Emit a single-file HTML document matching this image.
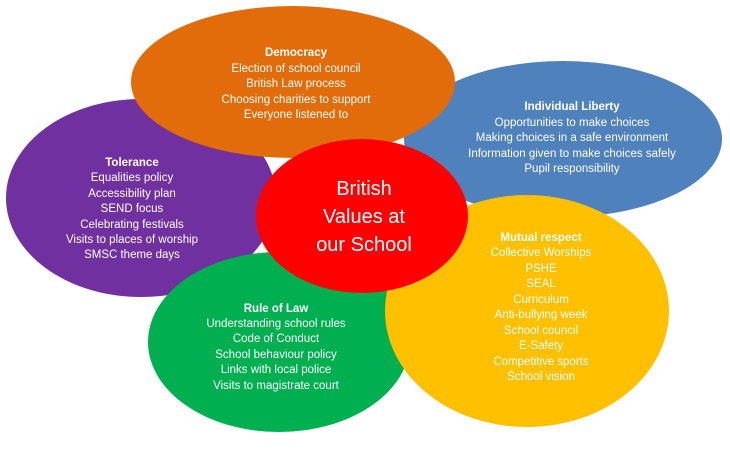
<!DOCTYPE html>
<html><head><meta charset="utf-8"><style>
html,body{margin:0;padding:0;background:#fff;width:730px;height:449px;overflow:hidden}
svg{display:block}
text{font-family:"Liberation Sans",sans-serif;fill:#fff;text-anchor:middle}
.t{font-size:11.5px;font-weight:bold}
.b{font-size:11.5px}
</style></head><body>
<svg width="730" height="449" viewBox="0 0 730 449">
<ellipse cx="141" cy="198" rx="135" ry="99" fill="#7030a0"/>
<ellipse cx="563" cy="139" rx="159" ry="78" fill="#4f81bd"/>
<ellipse cx="293" cy="82" rx="162" ry="76" fill="#e36c0a"/>
<ellipse cx="279" cy="342" rx="131" ry="90" fill="#00b050"/>
<ellipse cx="527" cy="311" rx="142" ry="116" fill="#ffc000"/>
<ellipse cx="362" cy="216" rx="106" ry="77" fill="#ff0000"/>

<text class="t" x="296" y="56">Democracy</text>
<text class="b" x="296" y="72">Election of school council</text>
<text class="b" x="296" y="87">British Law process</text>
<text class="b" x="296" y="103">Choosing charities to support</text>
<text class="b" x="296" y="118">Everyone listened to</text>

<text class="t" x="572" y="110">Individual Liberty</text>
<text class="b" x="572" y="126">Opportunities to make choices</text>
<text class="b" x="572" y="141">Making choices in a safe environment</text>
<text class="b" x="572" y="157">Information given to make choices safely</text>
<text class="b" x="572" y="172">Pupil responsibility</text>

<text class="t" x="132" y="166">Tolerance</text>
<text class="b" x="132" y="181">Equalities policy</text>
<text class="b" x="132" y="197">Accessibility plan</text>
<text class="b" x="132" y="212">SEND focus</text>
<text class="b" x="132" y="228">Celebrating festivals</text>
<text class="b" x="132" y="243">Visits to places of worship</text>
<text class="b" x="132" y="258">SMSC theme days</text>

<text class="t" x="276" y="312">Rule of Law</text>
<text class="b" x="276" y="327">Understanding school rules</text>
<text class="b" x="276" y="342">Code of Conduct</text>
<text class="b" x="276" y="358">School behaviour policy</text>
<text class="b" x="276" y="373">Links with local police</text>
<text class="b" x="276" y="389">Visits to magistrate court</text>

<text class="t" x="541" y="241">Mutual respect</text>
<text class="b" x="541" y="256">Collective Worships</text>
<text class="b" x="541" y="272">PSHE</text>
<text class="b" x="541" y="287">SEAL</text>
<text class="b" x="541" y="303">Curriculum</text>
<text class="b" x="541" y="318">Anti-bullying week</text>
<text class="b" x="541" y="334">School council</text>
<text class="b" x="541" y="349">E-Safety</text>
<text class="b" x="541" y="365">Competitive sports</text>
<text class="b" x="541" y="380">School vision</text>

<text x="364" y="195" style="font-size:20px">British</text>
<text x="364" y="223" style="font-size:20px">Values at</text>
<text x="364" y="251" style="font-size:20px">our School</text>
</svg>
</body></html>
